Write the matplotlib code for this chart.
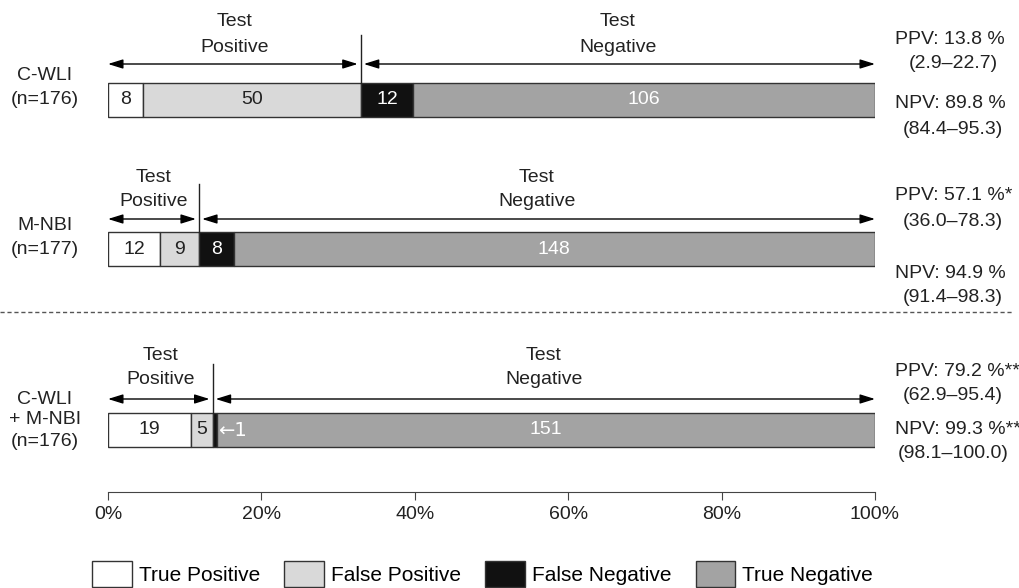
import matplotlib
matplotlib.use("Agg")
import matplotlib.pyplot as plt
from matplotlib.patches import Patch

plt.rcParams['font.family'] = ['Liberation Sans', 'DejaVu Sans']

# ---- data ----
groups = ["C-WLI\n(n=176)", "M-NBI\n(n=177)", "C-WLI\n+ M-NBI\n(n=176)"]
true_pos = [8, 12, 19]
false_pos = [50, 9, 5]
false_neg = [12, 8, 1]
true_neg = [106, 148, 151]
ppv_text = ["PPV: 13.8 %", "PPV: 57.1 %*", "PPV: 79.2 %**"]
ppv_ci = ["(2.9–22.7)", "(36.0–78.3)", "(62.9–95.4)"]
npv_text = ["NPV: 89.8 %", "NPV: 94.9 %", "NPV: 99.3 %**"]
npv_ci = ["(84.4–95.3)", "(91.4–98.3)", "(98.1–100.0)"]
categories = ["True Positive", "False Positive", "False Negative", "True Negative"]
xticks = [0, 20, 40, 60, 80, 100]
xtick_labels = ["0%", "20%", "40%", "60%", "80%", "100%"]

colors = ["#ffffff", "#d9d9d9", "#111111", "#a3a3a3"]
text_colors = ["#222222", "#222222", "#ffffff", "#ffffff"]

W, H = 1020, 588
fig = plt.figure(figsize=(W / 100, H / 100), dpi=100)
X0, X1 = 108, 875
ax = fig.add_axes([X0 / W, 0, (X1 - X0) / W, 1])
ax.set_xlim(0, 100)
ax.set_ylim(H, 0)

def px(xp):
    return (xp - X0) / (X1 - X0) * 100

bar_y = [100, 249, 430]
bar_h = 34
arrow_y = [64, 219, 399]
div_top = [35, 184, 364]
label_y = [[75, 99], [225, 250], [399, 420, 441]]
test_y = [[22, 47], [177, 202], [355, 380]]
right_y = [[40, 64, 104, 130], [196, 221, 273, 298], [372, 396, 429, 453]]
FS = 14

for i in range(3):
    n = true_pos[i] + false_pos[i] + false_neg[i] + true_neg[i]
    vals = [true_pos[i], false_pos[i], false_neg[i], true_neg[i]]
    pct = [v / n * 100 for v in vals]
    left = 0
    for k in range(4):
        ax.barh(bar_y[i], pct[k], left=left, height=bar_h, color=colors[k],
                edgecolor="#333333", linewidth=1)
        if not (i == 2 and k == 2):
            ax.text(left + pct[k] / 2, bar_y[i], str(vals[k]), ha="center",
                    va="center", fontsize=FS, color=text_colors[k])
        else:
            ax.text(left + pct[k] + 0.1, bar_y[i], "←" + str(vals[k]), ha="left",
                    va="center", fontsize=FS, color="#ffffff",
                    family=["DejaVu Sans"])
        left += pct[k]
    div = pct[0] + pct[1]
    ax.plot([div, div], [div_top[i], bar_y[i] - bar_h / 2], color="#222222", lw=1)
    ap = dict(arrowstyle="<|-|>,head_length=0.9,head_width=0.28", color="black",
              lw=1, shrinkA=0, shrinkB=0)
    ax.annotate("", xy=(div - 0.4, arrow_y[i]), xytext=(0, arrow_y[i]), arrowprops=ap)
    ax.annotate("", xy=(100, arrow_y[i]), xytext=(div + 0.4, arrow_y[i]), arrowprops=ap)
    for word, yy in zip(["Test", "Positive"], test_y[i]):
        ax.text(div / 2, yy, word, ha="center", va="center", fontsize=FS, color="#222222")
    for word, yy in zip(["Test", "Negative"], test_y[i]):
        ax.text((div + 100) / 2, yy, word, ha="center", va="center", fontsize=FS, color="#222222")
    for line, yy in zip(groups[i].split("\n"), label_y[i]):
        ax.text(px(45), yy, line, ha="center", va="center", fontsize=FS, color="#222222")
    ry = right_y[i]
    ax.text(px(895), ry[0], ppv_text[i], ha="left", va="center", fontsize=FS, color="#222222")
    ax.text(px(953), ry[1], ppv_ci[i], ha="center", va="center", fontsize=FS, color="#222222")
    ax.text(px(895), ry[2], npv_text[i], ha="left", va="center", fontsize=FS, color="#222222")
    ax.text(px(953), ry[3], npv_ci[i], ha="center", va="center", fontsize=FS, color="#222222")

ax.plot([px(0), px(1012)], [312, 312], color="#555555", lw=1, ls=(0, (3, 2)), clip_on=False)

for s in ["left", "right", "top"]:
    ax.spines[s].set_visible(False)
ax.spines["bottom"].set_position(("data", 492))
ax.spines["bottom"].set_color("#444444")
ax.set_yticks([])
ax.set_xticks(xticks)
ax.set_xticklabels(xtick_labels)
ax.tick_params(axis="x", direction="out", length=6, pad=4, labelsize=FS,
               color="#444444", labelcolor="#222222")
ax.patch.set_visible(False)

handles = [Patch(facecolor=c, edgecolor="#333333", linewidth=1) for c in colors]
fig.legend(handles, categories, loc="lower left", bbox_to_anchor=(84 / W, -0.012),
           ncol=4, frameon=False, fontsize=15, handlelength=1.9, handleheight=1.5,
           handletextpad=0.35, columnspacing=1.15, borderaxespad=0)

fig.savefig("out.png", dpi=100)
